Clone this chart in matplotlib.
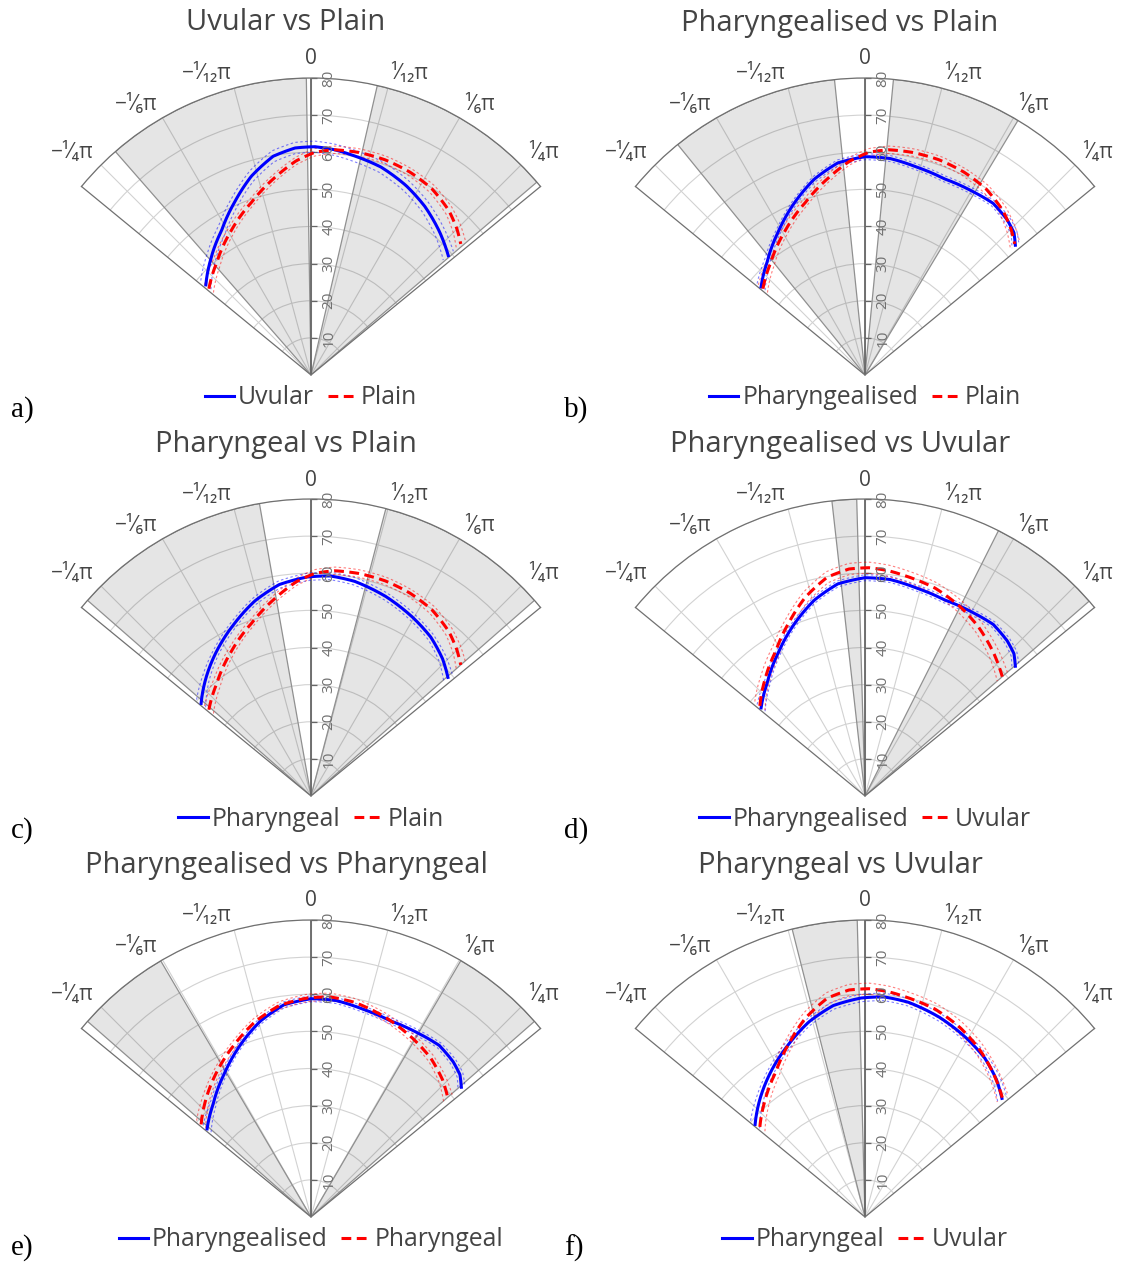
import numpy as np
import matplotlib
matplotlib.use("Agg")
import matplotlib.pyplot as plt
from matplotlib import transforms
from matplotlib.path import Path

plt.rcParams['font.family'] = ['Open Sans', 'DejaVu Sans']

# ---------------- data (angles in degrees, radius in mm) ----------------
plain_theta = [-49.8, -40.0, -29.0, -19.0, -10.5, -4.0, 1.0, 6.0, 12.0, 19.0, 26.0, 33.0, 40.0, 45.0, 48.8]
plain_r     = [36.0, 39.5, 44.4, 49.2, 54.0, 57.8, 60.0, 61.0, 61.3, 61.3, 60.8, 59.8, 57.8, 55.6, 53.6]
plain_ci    = [1.6, 1.3, 1.1, 1.0, 1.0, 1.0, 1.0, 1.0, 1.0, 1.0, 1.0, 1.1, 1.2, 1.4, 1.6]

uvular_theta = [-49.4, -41.2, -31.7, -23.7, -16.7, -9.8, -4.0, 1.0, 6.0, 11.0, 18.6, 26.6, 34.0, 42.0, 49.0]
uvular_r     = [37.3, 41.1, 45.8, 51.0, 55.9, 59.8, 61.3, 61.5, 61.0, 60.2, 59.1, 57.1, 54.8, 51.8, 49.0]
uvular_ci    = [1.8, 1.6, 1.5, 1.5, 1.5, 1.5, 1.5, 1.5, 1.5, 1.5, 1.5, 1.5, 1.5, 1.6, 1.8]

pharyngealised_theta = [-49.7, -41.0, -31.0, -22.5, -14.5, -7.3, 0.0, 6.6, 14.0, 22.0, 30.0, 36.8, 42.5, 46.3, 49.2]
pharyngealised_r     = [36.7, 40.2, 45.2, 50.0, 54.5, 57.6, 58.8, 58.7, 57.7, 57.0, 57.3, 57.7, 56.7, 55.5, 53.5]
pharyngealised_ci    = [1.4, 1.0, 0.8, 0.8, 0.8, 0.8, 0.8, 0.8, 0.8, 0.8, 0.8, 0.8, 0.9, 1.0, 1.2]

pharyngeal_theta = [-49.9, -42.0, -33.0, -24.0, -16.0, -8.5, -1.0, 5.0, 11.5, 20.5, 29.5, 37.0, 43.8, 49.1]
pharyngeal_r     = [38.7, 42.4, 46.6, 50.8, 54.7, 57.6, 59.0, 59.5, 59.0, 57.4, 55.4, 53.6, 51.2, 48.8]
pharyngeal_ci    = [1.6, 1.2, 1.0, 1.0, 1.0, 1.0, 1.0, 1.0, 1.0, 1.0, 1.0, 1.0, 1.2, 1.5]

curves = {
    "Plain": (plain_theta, plain_r, plain_ci),
    "Uvular": (uvular_theta, uvular_r, uvular_ci),
    "Pharyngealised": (pharyngealised_theta, pharyngealised_r, pharyngealised_ci),
    "Pharyngeal": (pharyngeal_theta, pharyngeal_r, pharyngeal_ci),
}

panel_titles = ["Uvular vs Plain", "Pharyngealised vs Plain", "Pharyngeal vs Plain",
                "Pharyngealised vs Uvular", "Pharyngealised vs Pharyngeal", "Pharyngeal vs Uvular"]
panel_first = ["Uvular", "Pharyngealised", "Pharyngeal", "Pharyngealised", "Pharyngealised", "Pharyngeal"]
panel_second = ["Plain", "Plain", "Plain", "Uvular", "Pharyngeal", "Uvular"]
panel_letters = ["a)", "b)", "c)", "d)", "e)", "f)"]
# significant-difference sectors (degrees)
panel_shading = [
    [(-41.2, -0.9), (12.9, 49.5)],
    [(-39.1, -5.9), (5.5, 31.0)],
    [(-48.8, -10.0), (14.6, 48.8)],
    [(-6.4, -1.6), (26.7, 49.0)],
    [(-48.8, -30.4), (30.3, 48.8)],
    [(-14.2, -1.5)],
]

theta_ticks = [-45, -30, -15, 0, 15, 30, 45]
theta_ticklabels = ["\u2212\u00b9\u2044\u2084\u03c0", "\u2212\u00b9\u2044\u2086\u03c0",
                    "\u2212\u00b9\u2044\u2081\u2082\u03c0", "0",
                    "\u00b9\u2044\u2081\u2082\u03c0", "\u00b9\u2044\u2086\u03c0", "\u00b9\u2044\u2084\u03c0"]
r_ticks = [10, 20, 30, 40, 50, 60, 70, 80]

# ---------------- layout ----------------
W, H = 1122, 1263
fig = plt.figure(figsize=(W / 100, H / 100), dpi=100)
fig.patch.set_facecolor("white")

R_PX = 297.0
TMAX = 50.6
side = 2 * R_PX * np.sin(np.deg2rad(TMAX))
col_ox = [311, 865]
row_oy = [375, 796, 1217]
title_x = [286, 840]
title_dy = -352   # title center relative to origin
legend_dy = 23
letter_x = [11, 564]
letter_dy = [35, 35, 31]

TXT = "#444444"
GRID = "#d2d2d2"
EDGE = "#707070"
BLUE = "#0000ff"
RED = "#ff0000"

tick_marker = Path([(0, 0), (1, 0)], [Path.MOVETO, Path.LINETO])

for i in range(6):
    row, col = divmod(i, 2)
    ox, oy = col_ox[col], row_oy[row]
    cy = oy - R_PX / 2
    left = ox - side / 2
    top = cy - side / 2
    ax = fig.add_axes([left / W, 1 - (top + side) / H, side / W, side / H], projection="polar")
    ax.set_theta_zero_location("N")
    ax.set_theta_direction(-1)
    ax.set_thetamin(-TMAX)
    ax.set_thetamax(TMAX)
    ax.set_ylim(0, 80)
    ax.set_axisbelow(True)
    ax.set_xticks(np.deg2rad(theta_ticks))
    ax.set_xticklabels([])
    ax.set_yticks(r_ticks)
    ax.set_yticklabels([])
    ax.tick_params(axis="x", direction="out", length=5, width=0.8, color=EDGE, pad=0)
    ax.tick_params(axis="y", length=0)
    ax.grid(True, color=GRID, linewidth=0.8)
    for s in ("polar", "start", "end"):
        ax.spines[s].set_color(EDGE)
        ax.spines[s].set_linewidth(0.9)
    ax.spines["inner"].set_visible(False)

    # shaded sectors
    for a, b in panel_shading[i]:
        ax.bar(np.deg2rad((a + b) / 2), 80, width=np.deg2rad(b - a), bottom=0,
               align="center", facecolor=(0, 0, 0, 0.10), edgecolor="#909090",
               linewidth=0.9, zorder=1)

    # radial axis line + ticks + labels
    ax.axvline(0, color="#666666", linewidth=1.3, zorder=2.5)
    ax.plot(np.zeros(len(r_ticks)), r_ticks, linestyle="none", marker=tick_marker,
            markersize=8, markeredgecolor="#666666", markeredgewidth=0.9, zorder=2.5,
            clip_on=False)
    off_r = transforms.offset_copy(ax.transData, fig=fig, x=18, y=0, units="dots")
    for rv in r_ticks:
        ax.text(0, rv, str(rv), transform=off_r, rotation=90, ha="center", va="center",
                fontsize=11, color="#707070", zorder=4)

    # angular labels
    for t, lab in zip(theta_ticks, theta_ticklabels):
        tr = np.deg2rad(t)
        if t == 0:
            dx, dy, ha = 0, 19, "center"
        else:
            dx, dy = 10 * np.sin(tr), 10 * np.cos(tr) + 5
            ha = "left" if t > 0 else "right"
        off = transforms.offset_copy(ax.transData, fig=fig, x=dx, y=dy, units="dots")
        ax.text(tr, 80, lab, transform=off, ha=ha, va="center", fontsize=15,
                color=TXT, clip_on=False, family=["Open Sans", "DejaVu Sans"])

    # curves
    handles = []
    for name, color, dashed in ((panel_first[i], BLUE, False), (panel_second[i], RED, True)):
        th, rr, ci = curves[name]
        th = np.deg2rad(np.array(th))
        rr = np.array(rr)
        ci = np.array(ci)
        for band in (rr + ci, rr - ci):
            lb, = ax.plot(th, band, color=color, alpha=0.5, linewidth=0.8, zorder=3)
            lb.set_dashes([2.2, 2.2])
            lb.get_path()._interpolation_steps = 40
        ln, = ax.plot(th, rr, color=color, linewidth=2.2, zorder=3.5)
        if dashed:
            ln.set_dashes([3.2, 1.8])
        ln.get_path()._interpolation_steps = 40
        handles.append(ln)

    fig.legend(handles=handles, labels=[panel_first[i], panel_second[i]], loc="center",
               bbox_to_anchor=(ox / W, 1 - (oy + legend_dy) / H), ncol=2, frameon=False,
               fontsize=17.8, handlelength=1.2, handletextpad=0.15, columnspacing=0.55,
               labelcolor=TXT, borderaxespad=0, borderpad=0)

    fig.text(title_x[col] / W, 1 - (oy + title_dy) / H, panel_titles[i], ha="center",
             va="center", fontsize=21, color=TXT)
    fig.text(letter_x[col] / W, 1 - (oy + letter_dy[row]) / H, panel_letters[i], ha="left",
             va="center", fontsize=21, color="black", family=["Liberation Serif", "DejaVu Serif"])

fig.savefig("out.png", dpi=100, facecolor="white")
